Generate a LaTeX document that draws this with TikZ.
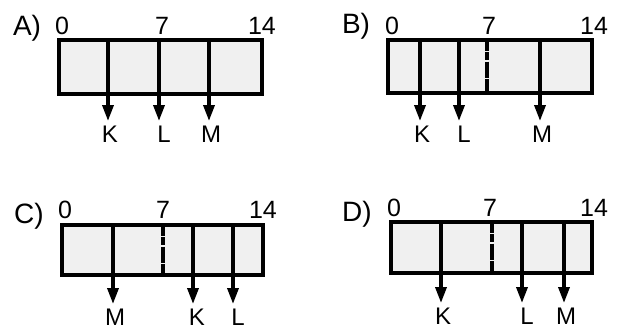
\documentclass[tikz,border=0pt]{standalone}
\usepackage{fontspec}
\setmainfont{Liberation Sans}
\usetikzlibrary{arrows.meta}
\definecolor{boxgray}{HTML}{F0F0F0}
\begin{document}
\begin{tikzpicture}[x=1pt,y=-1pt,
  box/.style={draw=black, line width=3.4pt, fill=boxgray},
  dashdiv/.style={draw=black, line width=3.4pt, dash pattern=on 11pt off 1.3pt on 8pt off 1.3pt on 16pt off 1.3pt on 20pt},
  pointer/.style={draw=black, line width=3.4pt, -{Triangle[length=16pt,width=11pt]}},
  lab/.style={font=\fontsize{24}{24}\selectfont, inner xsep=0pt, inner ysep=5pt, anchor=north},
  num/.style={font=\fontsize{25}{25}\selectfont, inner sep=0pt, anchor=base},
  opt/.style={font=\fontsize{28}{28}\selectfont, inner sep=0pt, anchor=base}
]
\useasboundingbox (0,0) rectangle (624,333);

% ---------- A ----------
\draw[box] (59,40) rectangle (262,94);
\node[opt] (Aopt) at (27,35) {A)};
\node[num] (A0) at (62,34) {0};
\node[num] (A7) at (162,34) {7};
\node[num] (A14) at (262,34) {14};
\node[lab] (AK) at (110,121) {K};
\node[lab] (AL) at (164,121) {L};
\node[lab] (AM) at (211,121) {M};
\coordinate (AKt) at (108,40);
\coordinate (ALt) at (159,40);
\coordinate (AMt) at (209,40);
\draw[pointer] (AKt) -- (AKt |- AK.north);
\draw[pointer] (ALt) -- (ALt |- AL.north);
\draw[pointer] (AMt) -- (AMt |- AM.north);

% ---------- B ----------
\draw[box] (388,40) rectangle (592,93);
\node[opt] (Bopt) at (356,33) {B)};
\node[num] (B0) at (392,34) {0};
\node[num] (B7) at (489,34) {7};
\node[num] (B14) at (594,34) {14};
\node[lab] (BK) at (422,121) {K};
\node[lab] (BL) at (464,121) {L};
\node[lab] (BM) at (542,121) {M};
\coordinate (BKt) at (420,40);
\coordinate (BLt) at (459,40);
\coordinate (BMt) at (540,40);
\coordinate (B7t) at (487,40);
\coordinate (B7b) at (487,93);
\draw[dashdiv] (B7t) -- (B7b);
\draw[pointer] (BKt) -- (BKt |- BK.north);
\draw[pointer] (BLt) -- (BLt |- BL.north);
\draw[pointer] (BMt) -- (BMt |- BM.north);

% ---------- C ----------
\draw[box] (62,225) rectangle (263,275);
\node[opt] (Copt) at (29,223) {C)};
\node[num] (C0) at (65,218) {0};
\node[num] (C7) at (163,218) {7};
\node[num] (C14) at (263,218) {14};
\node[lab] (CM) at (115,304) {M};
\node[lab] (CK) at (197,304) {K};
\node[lab] (CL) at (238,304) {L};
\coordinate (CMt) at (113,225);
\coordinate (CKt) at (193,225);
\coordinate (CLt) at (233,225);
\coordinate (C7t) at (163,225);
\coordinate (C7b) at (163,275);
\draw[dashdiv] (C7t) -- (C7b);
\draw[pointer] (CMt) -- (CMt |- CM.north);
\draw[pointer] (CKt) -- (CKt |- CK.north);
\draw[pointer] (CLt) -- (CLt |- CL.north);

% ---------- D ----------
\draw[box] (391,222) rectangle (592,273);
\node[opt] (Dopt) at (357,221) {D)};
\node[num] (D0) at (394,216) {0};
\node[num] (D7) at (490,216) {7};
\node[num] (D14) at (594,216) {14};
\node[lab] (DK) at (443,303) {K};
\node[lab] (DL) at (527,303) {L};
\node[lab] (DM) at (566,303) {M};
\coordinate (DKt) at (441,222);
\coordinate (DLt) at (522,222);
\coordinate (DMt) at (564,222);
\coordinate (D7t) at (492,222);
\coordinate (D7b) at (492,273);
\draw[dashdiv] (D7t) -- (D7b);
\draw[pointer] (DKt) -- (DKt |- DK.north);
\draw[pointer] (DLt) -- (DLt |- DL.north);
\draw[pointer] (DMt) -- (DMt |- DM.north);
\end{tikzpicture}
\end{document}
